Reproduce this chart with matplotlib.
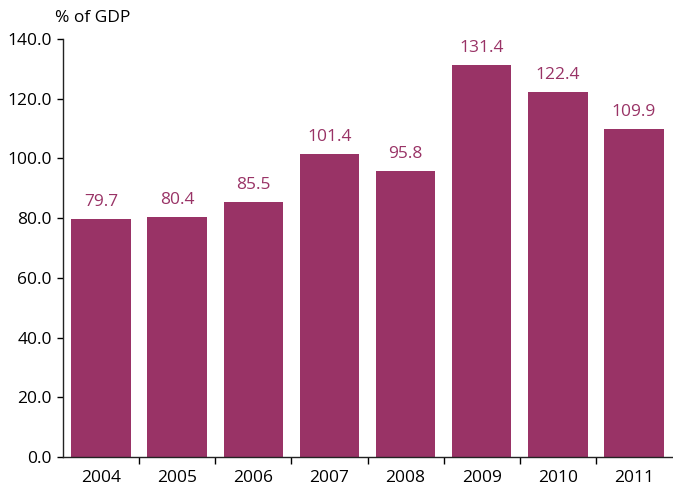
import matplotlib
matplotlib.use("Agg")
import matplotlib.pyplot as plt
import numpy as np

years = ["2004", "2005", "2006", "2007", "2008", "2009", "2010", "2011"]
values = [79.7, 80.4, 85.5, 101.4, 95.8, 131.4, 122.4, 109.9]
yticks = [0, 20, 40, 60, 80, 100, 120, 140]

color = "#993366"
plt.rcParams['font.family'] = ['Open Sans', 'DejaVu Sans']
fs = 12.5

fig = plt.figure(figsize=(6.73, 4.88), dpi=100)
ax = fig.add_axes([63/673, 31/488, 609/673, 418/488])

x = np.arange(len(years))
ax.bar(x, values, width=0.78, color=color, zorder=2)
for xi, v in zip(x, values):
    ax.text(xi, v + 3, f"{v:.1f}", ha="center", va="bottom", color=color, fontsize=fs)

ax.set_xlim(-0.5, len(years) - 0.5)
ax.set_ylim(0, 140)
ax.set_yticks(yticks)
ax.set_yticklabels([f"{t:.1f}" for t in yticks], fontsize=fs)
ax.set_xticks(x)
ax.set_xticklabels(years, fontsize=fs)
ax.tick_params(axis="x", which="major", length=0, pad=9)
ax.set_xticks(np.arange(0.5, len(years) - 1, 1), minor=True)
ax.tick_params(axis="x", which="minor", length=5, direction="out", width=1)
ax.tick_params(axis="y", length=4, width=1, direction="out", pad=4)

for s in ["top", "right"]:
    ax.spines[s].set_visible(False)
for s in ["left", "bottom"]:
    ax.spines[s].set_color("#222222")
    ax.spines[s].set_linewidth(1)

fig.text(55/673, 1 - 18/488, "% of GDP", fontsize=fs, ha="left", va="center")

fig.savefig("out.png", dpi=100)
